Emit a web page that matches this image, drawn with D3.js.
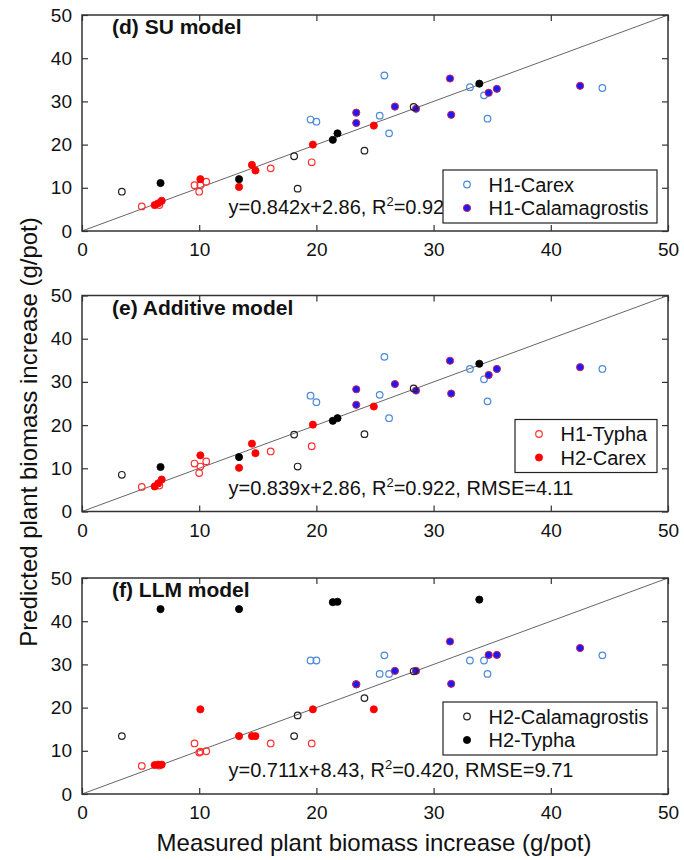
<!DOCTYPE html>
<html><head><meta charset="utf-8">
<script src="https://cdn.jsdelivr.net/npm/d3@7"></script>
<style>body{margin:0;background:#fff;} svg{display:block;}</style>
</head><body>
<script>
// ---- data ----
const panelTitles = ["(d) SU model", "(e) Additive model", "(f) LLM model"];
const equations = [
  "y=0.842x+2.86, R|=0.922, RMSE=4.11",
  "y=0.839x+2.86, R|=0.922, RMSE=4.11",
  "y=0.711x+8.43, R|=0.420, RMSE=9.71"
];
const seriesNames = ["H1-Carex","H1-Calamagrostis","H1-Typha","H2-Carex","H2-Calamagrostis","H2-Typha"];
const legendPerPanel = [[0,1],[2,3],[4,5]];
const xTicks = [0,10,20,30,40,50];
const yTicks = [0,10,20,30,40,50];

const carexX = [19.5, 20.0, 25.8, 25.4, 26.2, 33.1, 34.3, 34.6, 44.4];
const carexY = [
  [25.8, 25.3, 36.0, 26.7, 22.6, 33.3, 31.4, 26.0, 33.1],
  [26.8, 25.3, 35.8, 27.0, 21.6, 33.0, 30.6, 25.5, 33.0],
  [30.9, 30.9, 32.1, 27.8, 27.8, 30.9, 30.9, 27.8, 32.1]
];
const calamX = [23.4, 23.4, 26.7, 28.5, 31.4, 31.5, 34.7, 35.4, 42.5];
const calamY = [
  [27.4, 25.0, 28.8, 28.3, 35.3, 26.9, 32.0, 32.9, 33.6],
  [28.3, 24.7, 29.5, 28.0, 34.9, 27.3, 31.6, 33.0, 33.4],
  [25.4, 25.4, 28.5, 28.5, 35.3, 25.5, 32.2, 32.2, 33.8]
];
const typhaX = [5.1, 6.6, 9.6, 10.0, 10.1, 10.6, 16.1, 19.6];
const typhaY = [
  [5.7, 6.0, 10.6, 9.1, 10.6, 11.4, 14.5, 15.9],
  [5.7, 6.0, 11.1, 8.9, 10.4, 11.6, 13.9, 15.1],
  [6.5, 6.6, 11.7, 9.6, 9.8, 9.9, 11.7, 11.7]
];
const h2CarexX = [6.2, 6.5, 6.8, 10.1, 13.4, 14.5, 14.8, 19.7, 24.9];
const h2CarexY = [
  [6.0, 6.4, 7.0, 12.0, 10.2, 15.3, 14.0, 20.0, 24.4],
  [5.8, 6.5, 7.4, 13.0, 10.1, 15.7, 13.5, 20.1, 24.3],
  [6.7, 6.8, 6.8, 19.6, 13.4, 13.4, 13.4, 19.6, 19.6]
];
const h2CalamX = [3.4, 18.4, 18.1, 24.1, 28.3];
const h2CalamY = [
  [9.1, 9.8, 17.3, 18.6, 28.7],
  [8.5, 10.4, 17.8, 17.9, 28.5],
  [13.4, 18.2, 13.4, 22.2, 28.4]
];
const h2TyphaX = [6.7, 13.4, 21.4, 21.8, 33.9];
const h2TyphaY = [
  [11.1, 12.0, 21.1, 22.6, 34.1],
  [10.3, 12.6, 21.0, 21.6, 34.2],
  [42.8, 42.8, 44.4, 44.5, 45.0]
];

const seriesX = [carexX, calamX, typhaX, h2CarexX, h2CalamX, h2TyphaX];
const seriesY = [carexY, calamY, typhaY, h2CarexY, h2CalamY, h2TyphaY];

// ---- styles ----
const styles = [
  {fill:"none", stroke:"#4a8ad6", r:3.3, sw:1.2},
  {fill:"#1a1aff", stroke:"#d0204a", r:3.6, sw:1.0},
  {fill:"none", stroke:"#ff3030", r:3.3, sw:1.2},
  {fill:"#ff0000", stroke:"#ff0000", r:3.6, sw:0.8},
  {fill:"none", stroke:"#222", r:3.3, sw:1.2},
  {fill:"#000", stroke:"#000", r:3.6, sw:0.8}
];

const W = 684, H = 860;
const left = 82, right = 668, ph = 216;
const tops = [15, 295.5, 578];
const font = "'Liberation Sans', Arial, Helvetica, sans-serif";

const svg = d3.select("body").append("svg").attr("width", W).attr("height", H)
  .style("font-family", font);

const x = d3.scaleLinear().domain([0,50]).range([left, right]);

tops.forEach((top, pi) => {
  const y = d3.scaleLinear().domain([0,50]).range([top+ph, top]);
  const g = svg.append("g");
  const items = legendPerPanel[pi];
  const lw = pi === 1 ? 142 : 214, lh = 53;
  const lx = right - 11 - lw;
  const ly = pi === 0 ? top + ph - 8 - lh : top + ph - 39 - lh;

  // identity line
  g.append("line")
    .attr("x1", x(0)).attr("y1", y(0)).attr("x2", x(50)).attr("y2", y(50))
    .attr("stroke", "#666").attr("stroke-width", 1);

  // equation text (hidden behind the legend where they meet, as in the original)
  const eq = equations[pi].split("|");
  const t = g.append("text").attr("x", x(12.5)).attr("y", top+ph-17)
    .attr("font-size", 20).attr("fill", "#111");
  t.append("tspan").text(eq[0]);
  t.append("tspan").attr("font-size", 13).attr("dy", -8).text("2");
  t.append("tspan").attr("dy", 8).text(eq[1]);
  if (pi === 0) {
    svg.append("clipPath").attr("id", "eqclip").append("rect")
      .attr("x", left).attr("y", top).attr("width", lx - left).attr("height", ph);
    t.attr("clip-path", "url(#eqclip)");
  }

  // points
  seriesX.forEach((xs, si) => {
    const st = styles[si];
    const ys = seriesY[si][pi];
    g.append("g").selectAll("circle").data(xs.map((v,i)=>[v, ys[i]])).join("circle")
      .attr("cx", d => x(d[0])).attr("cy", d => y(d[1])).attr("r", st.r)
      .attr("fill", st.fill).attr("stroke", st.stroke).attr("stroke-width", st.sw);
  });

  // axes with inward ticks
  const axisStyle = sel => { sel.select(".domain").remove();
    sel.selectAll(".tick line").attr("stroke", "#333").attr("stroke-width", 1.2);
    sel.selectAll(".tick text").attr("font-size", 19).attr("fill", "#111").style("font-family", font); };
  g.append("g").attr("transform", `translate(0,${top+ph})`)
    .call(d3.axisBottom(x).tickValues(xTicks).tickSizeInner(-6).tickSizeOuter(0).tickPadding(12))
    .call(axisStyle);
  g.append("g").attr("transform", `translate(0,${top})`)
    .call(d3.axisTop(x).tickValues(xTicks).tickSizeInner(-6).tickSizeOuter(0).tickFormat(""))
    .call(axisStyle);
  g.append("g").attr("transform", `translate(${left},0)`)
    .call(d3.axisLeft(y).tickValues(yTicks).tickSizeInner(-6).tickSizeOuter(0).tickPadding(10))
    .call(axisStyle);
  g.append("g").attr("transform", `translate(${right},0)`)
    .call(d3.axisRight(y).tickValues(yTicks).tickSizeInner(-6).tickSizeOuter(0).tickFormat(""))
    .call(axisStyle);

  // frame
  g.append("rect").attr("x", left).attr("y", top).attr("width", right-left).attr("height", ph)
    .attr("fill", "none").attr("stroke", "#333").attr("stroke-width", 1.5);

  // title
  g.append("text").attr("x", 112).attr("y", top+19).attr("font-size", 21)
    .attr("font-weight", "bold").attr("fill", "#111").text(panelTitles[pi]);

  // legend
  const lg = g.append("g");
  lg.append("rect").attr("x", lx).attr("y", ly).attr("width", lw).attr("height", lh)
    .attr("fill", "#fff").attr("stroke", "#222").attr("stroke-width", 1.2);
  items.forEach((si, k) => {
    const st = styles[si];
    const cy = ly + 14.5 + k*23.5;
    lg.append("circle").attr("cx", lx + 24).attr("cy", cy).attr("r", st.r)
      .attr("fill", st.fill).attr("stroke", st.stroke).attr("stroke-width", st.sw);
    lg.append("text").attr("x", lx + 45.5).attr("y", cy + 7).attr("font-size", 20)
      .attr("fill", "#111").text(seriesNames[si]);
  });
});

// axis labels
svg.append("text").attr("x", (left+right)/2 - 1).attr("y", 851).attr("text-anchor", "middle")
  .attr("font-size", 24).attr("fill", "#111").text("Measured plant biomass increase (g/pot)");
svg.append("text").attr("transform", `translate(37,432) rotate(-90)`)
  .attr("text-anchor", "middle").attr("font-size", 24).attr("fill", "#111")
  .text("Predicted plant biomass increase (g/pot)");
</script>
</body></html>
